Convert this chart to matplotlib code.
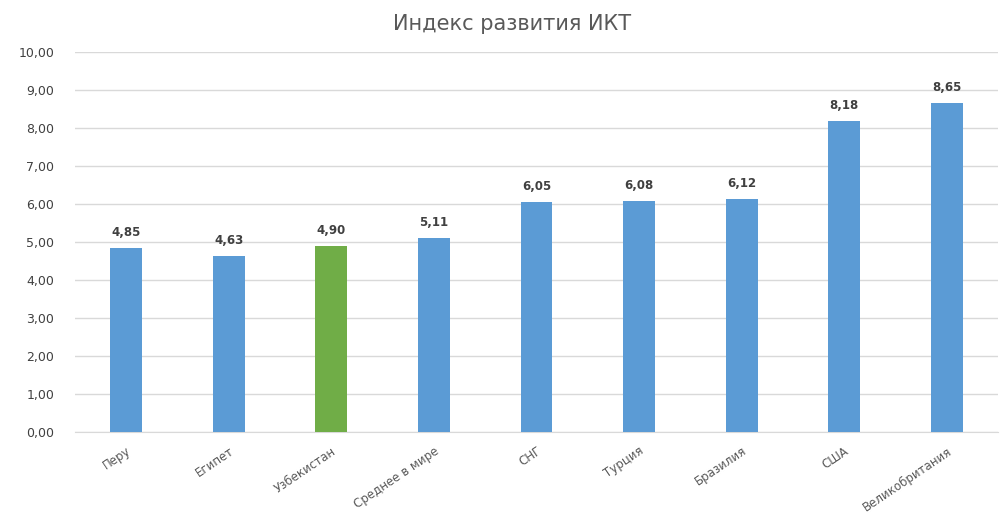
import matplotlib
matplotlib.use('Agg')
import matplotlib.pyplot as plt
from matplotlib.transforms import ScaledTranslation

# data
categories = ['Перу', 'Египет', 'Узбекистан', 'Среднее в мире', 'СНГ',
              'Турция', 'Бразилия', 'США', 'Великобритания']
values = [4.85, 4.63, 4.90, 5.11, 6.05, 6.08, 6.12, 8.18, 8.65]
highlight = 'Узбекистан'
yticks = [0, 1, 2, 3, 4, 5, 6, 7, 8, 9, 10]

blue = '#5B9BD5'
green = '#70AD47'
colors = [green if c == highlight else blue for c in categories]

plt.rcParams['font.family'] = ['DejaVu Sans']

fig = plt.figure(figsize=(10.06, 5.18), dpi=100)
ax = fig.add_axes([75 / 1006, 1 - 432 / 518, 923 / 1006, 380 / 518])

x = list(range(len(categories)))
bars = ax.bar(x, values, width=0.31, color=colors, zorder=3)

for b, v in zip(bars, values):
    ax.text(b.get_x() + b.get_width() / 2, v + 0.24, f'{v:.2f}'.replace('.', ','),
            ha='center', va='bottom', fontsize=8.5, fontweight='bold', color='#404040')

ax.set_xlim(-0.5, len(categories) - 0.5)
ax.set_ylim(0, 10)
ax.set_yticks(yticks)
ax.set_yticklabels([f'{t:.2f}'.replace('.', ',') for t in yticks],
                   fontsize=9, color='#404040')
ax.set_xticks(x)
ax.set_xticklabels(categories, rotation=34, ha='right', rotation_mode='anchor',
                   fontsize=8.5, color='#595959')
# nudge the slanted labels a little to the right, like the original
shift = ScaledTranslation(5 / 100, 0, fig.dpi_scale_trans)
for lbl in ax.get_xticklabels():
    lbl.set_transform(lbl.get_transform() + shift)

ax.grid(axis='y', color='#D9D9D9', linewidth=1, zorder=0)
for side in ['top', 'right', 'left']:
    ax.spines[side].set_visible(False)
ax.spines['bottom'].set_color('#D9D9D9')
ax.tick_params(axis='both', length=0)
ax.tick_params(axis='y', pad=15)
ax.tick_params(axis='x', pad=9)

fig.text(512 / 1006, 1 - 24 / 518, 'Индекс развития ИКТ', ha='center', va='center',
         fontsize=15, color='#595959')

fig.savefig('out.png', dpi=100, facecolor='white')
